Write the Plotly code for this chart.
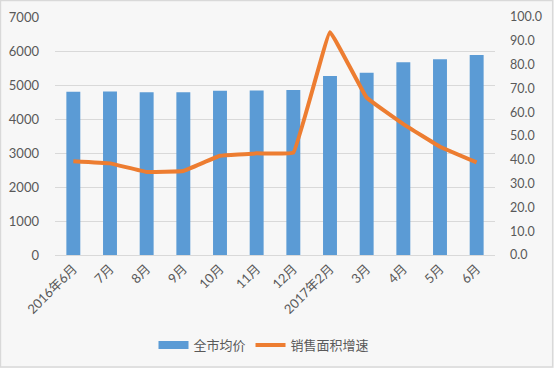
import plotly.graph_objects as go

categories = ["2016年6月", "7月", "8月", "9月", "10月", "11月", "12月",
              "2017年2月", "3月", "4月", "5月", "6月"]
avg_price = [4805, 4810, 4785, 4785, 4833, 4835, 4855, 5265, 5363, 5667, 5755, 5882]
area_growth = [39.4, 38.5, 34.9, 35.3, 41.7, 42.7, 43.0, 93.6, 66.1, 55.0, 45.5, 38.9]

font_family = "Lato, 'Noto Sans CJK SC', sans-serif"
txt = "#595959"
blue = "#5B9BD5"
orange = "#ED7D31"

fig = go.Figure()
fig.add_trace(go.Bar(x=categories, y=avg_price, name="全市均价", showlegend=False,
                     marker=dict(color=blue, line=dict(width=0)), yaxis="y"))
# legend proxy for bars (wide rectangle symbol)
fig.add_trace(go.Scatter(x=[None], y=[None], name="全市均价", mode="lines",
                         line=dict(color=blue, width=8), yaxis="y", hoverinfo="skip"))
fig.add_trace(go.Scatter(x=categories, y=area_growth, name="销售面积增速", mode="lines",
                         line=dict(color=orange, width=4, shape="spline", smoothing=0.2),
                         yaxis="y2"))

fig.update_layout(
    width=554, height=368,
    margin=dict(l=55, r=59, t=17, b=113, autoexpand=False),
    paper_bgcolor="#F7F7F7", plot_bgcolor="#F7F7F7",
    font=dict(family=font_family, size=13, color=txt),
    bargap=0.62,
    showlegend=True,
    legend=dict(orientation="h", x=0.475, xanchor="center", y=-0.378, yanchor="middle",
                font=dict(family="'Noto Sans CJK SC', sans-serif", size=13, color=txt),
                bgcolor="rgba(0,0,0,0)", tracegroupgap=0, itemwidth=30),
    xaxis=dict(type="category", tickangle=-45, showgrid=False, showline=True,
               linecolor="#D9D9D9", linewidth=1, ticks="", automargin=False,
               tickfont=dict(family=font_family, size=13, color=txt)),
    yaxis=dict(range=[0, 7000], dtick=1000, showgrid=True, gridcolor="#D9D9D9",
               gridwidth=1, zeroline=False, showline=False, ticks="", automargin=False,
               ticklabelstandoff=15, tickfont=dict(size=13, color=txt)),
    yaxis2=dict(range=[0, 100], dtick=10, overlaying="y", side="right", showgrid=False,
                zeroline=False, showline=False, tickformat=".1f", ticks="", automargin=False,
                ticklabelstandoff=14, tickfont=dict(size=12.5, color=txt)),
    shapes=[dict(type="rect", xref="paper", yref="paper",
                 x0=-55/440 + 0.001, x1=499/440 - 0.003,
                 y0=-113/238 + 0.004, y1=1 + 17/238 - 0.002,
                 line=dict(color="#D9D9D9", width=1.5), fillcolor="rgba(0,0,0,0)", layer="below")],
)

fig.write_html("out.html", config={"displayModeBar": False},
               post_script="document.body.style.margin='0';document.body.style.overflow='hidden';")
